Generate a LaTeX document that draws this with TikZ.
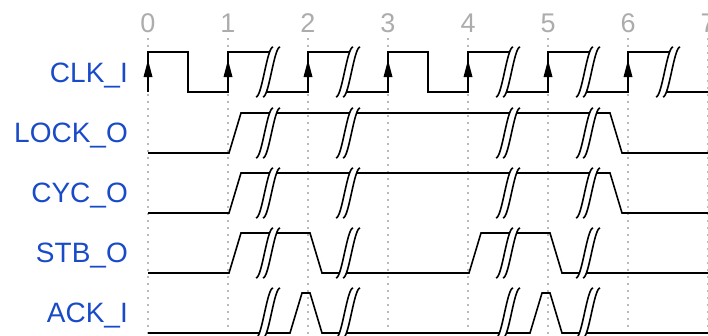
\documentclass[tikz,border=0pt]{standalone}
\usepackage{fontspec}
\setmainfont{Liberation Sans}
\definecolor{lblue}{RGB}{25,75,200}
\definecolor{tickgray}{RGB}{172,172,172}
\definecolor{dotgray}{RGB}{185,185,185}
\newcommand\tgap[3]{%
  \draw[sig] ({#1-12},{#3+5}) .. controls ({#1-6},{#3+5}) and ({#1-1},{#2-5}) .. ({#1+5},{#2-5});
  \draw[sig] ({#1-5},{#3+5}) .. controls ({#1+1},{#3+5}) and ({#1+6},{#2-5}) .. ({#1+12},{#2-5});}
\newcommand\clkarrow[1]{\fill ({#1},60) -- ({#1-4.5},77) -- ({#1+4.5},77) -- cycle;}
\begin{document}
\begin{tikzpicture}[x=1pt,y=-1pt,
  sig/.style={line width=1.6pt, black},
  lbl/.style={text=lblue, font=\fontsize{28}{32}\selectfont, anchor=base east, inner sep=0pt},
  ticknum/.style={text=tickgray, font=\fontsize{27}{30}\selectfont, anchor=base, inner sep=0pt},
  gridline/.style={dotgray, line width=1.3pt, dash pattern=on 1.5pt off 5.5pt}]
\useasboundingbox (0,0) rectangle (708,335);
% grid and tick numbers
\foreach \k in {0,...,7} {
  \draw[gridline] ({148+80*\k},38) -- ({148+80*\k},335);
  \node[ticknum] (t\k) at ({148+80*\k},32) {\k};
}
% labels
\node[lbl] (clk) at (128,82) {CLK\_I};
\node[lbl] (lock) at (128,142.5) {LOCK\_O};
\node[lbl] (cyc) at (128,202.5) {CYC\_O};
\node[lbl] (stb) at (128,262.5) {STB\_O};
\node[lbl] (ack) at (128,322.5) {ACK\_I};
% CLK_I  (high 52, low 92)
\draw[sig] (148,92) -- (148,52) -- (188,52) -- (188,92) -- (228,92) -- (228,52) -- (269.6,52);
\draw[sig] (266.4,92) -- (308,92) -- (308,52) -- (349.6,52);
\draw[sig] (346.4,92) -- (388,92) -- (388,52) -- (428,52) -- (428,92) -- (468,92) -- (468,52) -- (509.6,52);
\draw[sig] (506.4,92) -- (548,92) -- (548,52) -- (589.6,52);
\draw[sig] (586.4,92) -- (628,92) -- (628,52) -- (669.6,52);
\draw[sig] (666.4,92) -- (708,92);
\foreach \c in {268,348,508,588,668} {\tgap{\c}{52}{92}}
\foreach \x in {148,228,308,388,468,548,628} {\clkarrow{\x}}
% LOCK_O (high 113, low 153) and CYC_O (high 173, low 213)
\foreach \h/\l in {113/153,173/213} {
  \draw[sig] (148,\l) -- (229,\l) -- (241,\h) -- (269.6,\h);
  \draw[sig] (276.6,\h) -- (349.6,\h);
  \draw[sig] (356.6,\h) -- (509.6,\h);
  \draw[sig] (516.6,\h) -- (589.6,\h);
  \draw[sig] (596.6,\h) -- (610,\h) -- (622,\l) -- (708,\l);
  \foreach \c in {268,348,508,588} {\tgap{\c}{\h}{\l}}
}
% STB_O (high 233, low 273)
\draw[sig] (148,273) -- (229,273) -- (241,233) -- (269.6,233);
\draw[sig] (276.6,233) -- (310,233) -- (322,273) -- (339.4,273);
\draw[sig] (346.4,273) -- (469,273) -- (481,233) -- (509.6,233);
\draw[sig] (516.6,233) -- (550,233) -- (562,273) -- (579.4,273);
\draw[sig] (586.4,273) -- (708,273);
\foreach \c in {268,348,508,588} {\tgap{\c}{233}{273}}
% ACK_I (high 293, low 333)
\draw[sig] (148,333) -- (259.4,333);
\draw[sig] (266.4,333) -- (290,333) -- (302,293) -- (310,293) -- (322,333) -- (339.4,333);
\draw[sig] (346.4,333) -- (499.4,333);
\draw[sig] (506.4,333) -- (530,333) -- (542,293) -- (550,293) -- (562,333) -- (579.4,333);
\draw[sig] (586.4,333) -- (708,333);
\foreach \c in {268,348,508,588} {\tgap{\c}{293}{333}}
\end{tikzpicture}
\end{document}
